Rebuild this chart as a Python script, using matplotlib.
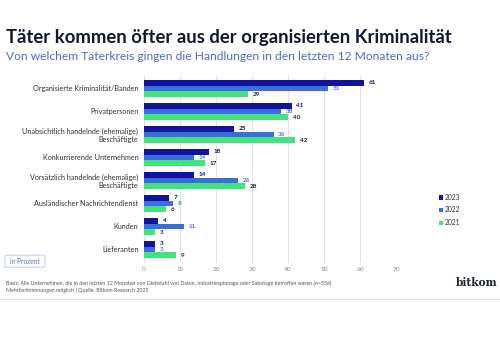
import matplotlib.pyplot as plt
from matplotlib.patches import FancyBboxPatch
import numpy as np

plt.rcParams["font.family"] = ["Lato", "DejaVu Sans"]

kategorien = [
  "Organisierte Kriminalität/Banden",
  "Privatpersonen",
  "Unabsichtlich handelnde (ehemalige)\nBeschäftigte",
  "Konkurrierende Unternehmen",
  "Vorsätzlich handelnde (ehemalige)\nBeschäftigte",
  "Ausländischer Nachrichtendienst",
  "Kunden",
  "Lieferanten",
]
jahre = ["2023", "2022", "2021"]
werte_2023 = [61, 41, 25, 18, 14, 7, 4, 3]
werte_2022 = [51, 38, 36, 14, 26, 8, 11, 3]
werte_2021 = [29, 40, 42, 17, 28, 6, 3, 9]
x_ticks = [0, 10, 20, 30, 40, 50, 60, 70]

farben = ["#12129a", "#3a6ee0", "#44e27c"]
label_farben = ["#12125a", "#4a78d8", "#222222"]

fig = plt.figure(figsize=(5, 3.53), dpi=100)
fig.patch.set_facecolor("white")

fig.text(0.012, 0.895, "Täter kommen öfter aus der organisierten Kriminalität",
         fontsize=13.3, fontweight="bold", color="#0f1a2e", va="center")
fig.text(0.012, 0.84, "Von welchem Täterkreis gingen die Handlungen in den letzten 12 Monaten aus?",
         fontsize=8.65, color="#4a6bd0", va="center")

ax = fig.add_axes([0.288, 0.255, 0.504, 0.5326])
y = np.arange(len(kategorien))
h = 0.25
serien = [werte_2023, werte_2022, werte_2021]
for i, (werte, farbe) in enumerate(zip(serien, farben)):
  pos = y + (i - 1) * h
  ax.barh(pos, werte, height=h, color=farbe, label=jahre[i], zorder=3)
  for p, v in zip(pos, werte):
    ax.text(v + 1.3, p, str(v), fontsize=4.6, fontweight="bold",
            color=label_farben[i], va="center", ha="left")

ax.set_xlim(0, 70)
ax.set_ylim(len(kategorien) - 1 + 0.587, -0.587)
ax.set_xticks(x_ticks)
ax.set_xticklabels([str(t) for t in x_ticks], fontsize=4.6, color="#888888")
ax.set_yticks(y)
ax.set_yticklabels(kategorien, fontsize=5.25, color="#333333", ha="right",
                   multialignment="right")
ax.tick_params(axis="both", length=0, pad=4)
ax.tick_params(axis="x", pad=3)
ax.grid(axis="x", color="#dddddd", linewidth=0.6, zorder=0)
for s in ax.spines.values():
  s.set_visible(False)

handles, labels = ax.get_legend_handles_labels()
fig.legend(handles, labels, loc="upper left", bbox_to_anchor=(0.866, 0.468),
           frameon=False, fontsize=4.8, handlelength=0.6, handleheight=0.6,
           handletextpad=0.3, labelspacing=0.85, labelcolor="#333333")

box = FancyBboxPatch((0.012, 0.245), 0.076, 0.03, transform=fig.transFigure,
                     boxstyle="round,pad=0.002", facecolor="white",
                     edgecolor="#c8cce6", linewidth=0.7)
fig.patches.append(box)
fig.text(0.05, 0.26, "in Prozent", fontsize=4.8, color="#5577cc", ha="center", va="center")

fig.text(0.012, 0.198,
         "Basis: Alle Unternehmen, die in den letzten 12 Monaten von Diebstahl von Daten, Industriespionage oder Sabotage betroffen waren (n=556)",
         fontsize=3.75, color="#555555", va="center")
fig.text(0.012, 0.178,
         "Mehrfachnennungen möglich | Quelle: Bitkom Research 2023",
         fontsize=3.75, color="#555555", va="center")
fig.text(0.994, 0.2, "bitkom", fontsize=7.6, fontweight="bold", family="DejaVu Serif",
         color="#1c2530", ha="right", va="center")
fig.add_artist(plt.Line2D([0, 1], [0.152, 0.152], transform=fig.transFigure,
                          color="#dddddd", linewidth=0.7))

fig.savefig("out.png", dpi=100, facecolor="white")
